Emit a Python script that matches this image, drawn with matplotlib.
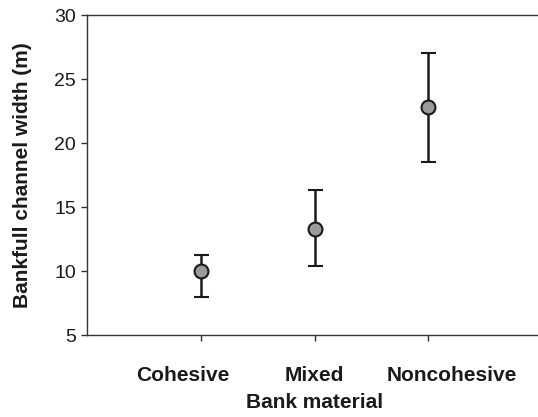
import numpy as np
import matplotlib.pyplot as plt

plt.rcParams['font.family'] = ['Liberation Sans', 'DejaVu Sans']

categories = ["Cohesive", "Mixed", "Noncohesive"]
means = [10.0, 13.3, 22.8]
upper = [11.25, 16.3, 27.0]
lower = [7.95, 10.4, 18.5]
# where the category labels sit under the axis (they are spread wider than the points)
label_pos = [0.84, 2.0, 3.21]

means = np.array(means)
yerr = [means - np.array(lower), np.array(upper) - means]
xpos = np.arange(1, len(categories) + 1)

fig = plt.figure(figsize=(5.38, 4.17), dpi=100)
ax = fig.add_axes([87 / 538, 1 - 335 / 417, 455 / 538, 320 / 417])

ax.errorbar(xpos, means, yerr=yerr, fmt='o', color='#1a1a1a', ecolor='#1a1a1a',
            elinewidth=1.8, capsize=5.4, capthick=1.8,
            markersize=10, markerfacecolor='#9a9a9a', markeredgecolor='#1a1a1a',
            markeredgewidth=1.5)

ax.set_xlim(0, 4)
ax.set_ylim(5, 30)
ax.set_yticks([5, 10, 15, 20, 25, 30])
ax.xaxis.remove_overlapping_locs = False
ax.set_xticks(xpos)
ax.set_xticklabels([])
ax.set_xticks(label_pos, minor=True)
ax.set_xticklabels(categories, minor=True, fontsize=15, fontweight='bold', color='#1a1a1a')
ax.tick_params(axis='x', which='major', length=4, width=1, color='#333333')
ax.tick_params(axis='x', which='minor', length=0, pad=22)
ax.tick_params(axis='y', length=4, pad=4, width=1, labelsize=14, color='#333333',
               labelcolor='#1a1a1a')

for s in ['left', 'bottom', 'top']:
    ax.spines[s].set_color('#333333')
    ax.spines[s].set_linewidth(1)
ax.spines['right'].set_visible(False)

ax.set_xlabel("Bank material", fontsize=15, fontweight='bold', color='#1a1a1a', labelpad=6)
ax.set_ylabel("Bankfull channel width (m)", fontsize=15, fontweight='bold',
              color='#1a1a1a', labelpad=16)

fig.savefig("out.png", dpi=100)
